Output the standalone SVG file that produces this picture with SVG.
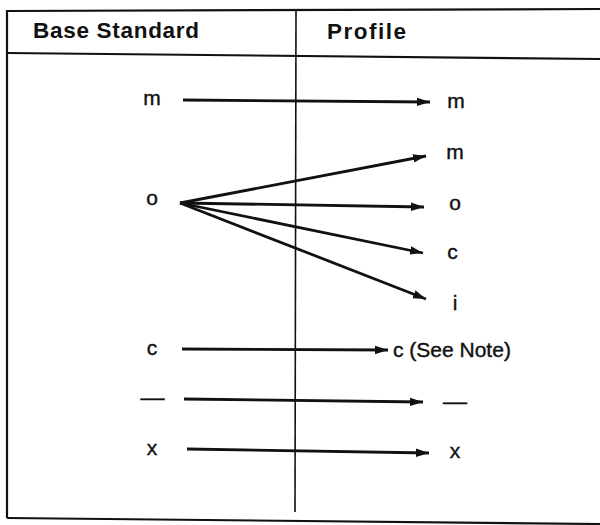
<svg xmlns="http://www.w3.org/2000/svg" width="600" height="525" viewBox="0 0 600 525">
<style>
.frame{stroke:#111;stroke-width:2.2;fill:none}
.div{stroke:#111;stroke-width:1.6;fill:none}
.hdr{font-family:"Liberation Sans",Arial,sans-serif;font-weight:bold;font-size:22.5px;fill:#111}
.lbl{font-family:"Liberation Sans",Arial,sans-serif;font-size:21px;fill:#111;text-anchor:middle;stroke:#111;stroke-width:0.4}
.note{font-family:"Liberation Sans",Arial,sans-serif;font-size:21px;fill:#111;stroke:#111;stroke-width:0.4}
.arr{stroke:#111;stroke-width:2.8;fill:none;marker-end:url(#ah)}
</style>
<defs>
<marker id="ah" markerUnits="userSpaceOnUse" markerWidth="14" markerHeight="10" refX="13" refY="5" orient="auto">
<path d="M0,0.8 L13,5 L0,9.2 Z" fill="#111"/>
</marker>
</defs>
<rect width="600" height="525" fill="#fff"/>
<g id="table">
<line class="frame" x1="7" y1="11" x2="600" y2="9"/>
<line class="frame" x1="7" y1="53" x2="600" y2="59"/>
<line class="frame" x1="7" y1="518" x2="600" y2="524"/>
<line class="frame" x1="7" y1="10" x2="7" y2="518"/>
<line class="div" x1="296" y1="10" x2="295" y2="512"/>
<text class="hdr" x="33" y="38" textLength="166">Base Standard</text>
<text class="hdr" x="327" y="39" textLength="79">Profile</text>
</g>
<g id="base-m"><text class="lbl" x="152" y="105">m</text></g>
<g id="base-o"><text class="lbl" x="152" y="205">o</text></g>
<g id="base-c"><text class="lbl" x="152" y="355">c</text></g>
<g id="base-dash"><text class="lbl" x="152.5" y="405" style="font-size:24px">—</text></g>
<g id="base-x"><text class="lbl" x="152" y="455">x</text></g>
<g id="prof-m1"><text class="lbl" x="456" y="108">m</text></g>
<g id="prof-m2"><text class="lbl" x="455" y="159">m</text></g>
<g id="prof-o"><text class="lbl" x="455" y="210">o</text></g>
<g id="prof-c"><text class="lbl" x="452.5" y="259">c</text></g>
<g id="prof-i"><text class="lbl" x="455" y="310">i</text></g>
<g id="prof-c-note"><text class="note" x="393" y="357">c (See Note)</text></g>
<g id="prof-dash"><text class="lbl" x="455" y="409" style="font-size:24px">—</text></g>
<g id="prof-x"><text class="lbl" x="455" y="458">x</text></g>
<g id="connectors">
<line class="arr" x1="183" y1="100" x2="430" y2="102"/>
<line class="arr" x1="180" y1="203" x2="426" y2="156"/>
<line class="arr" x1="180" y1="203" x2="424" y2="207"/>
<line class="arr" x1="180" y1="203" x2="423" y2="253"/>
<line class="arr" x1="180" y1="203" x2="426" y2="299"/>
<line class="arr" x1="182" y1="349" x2="388" y2="350"/>
<line class="arr" x1="184" y1="399" x2="423" y2="402"/>
<line class="arr" x1="187" y1="449" x2="429" y2="453"/>
</g>
</svg>
